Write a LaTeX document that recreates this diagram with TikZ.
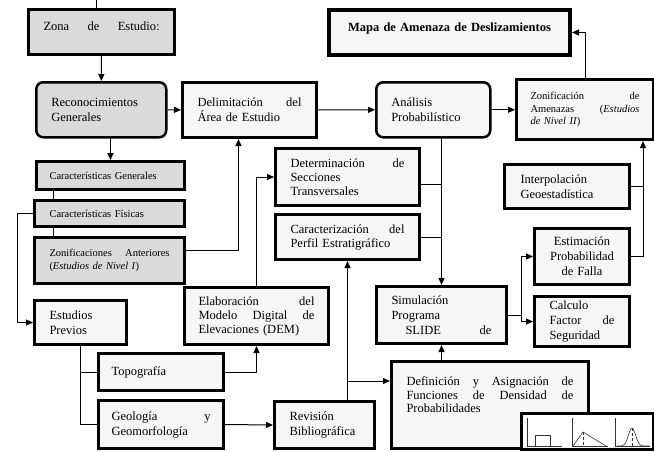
\documentclass[tikz,border=0pt]{standalone}
\usepackage{fontspec}
\setmainfont{Liberation Serif}
\usetikzlibrary{arrows.meta, positioning, calc}
\usepackage{xcolor}
\definecolor{boxgray}{RGB}{218,218,218}
\definecolor{boxwhite}{RGB}{246,246,246}

\begin{document}
\begin{tikzpicture}[
  x=1pt, y=-1pt,
  box/.style={rectangle, draw, line width=3pt, fill=boxwhite, anchor=north west, align=left, inner xsep=15pt, inner ysep=0pt, font=\fontsize{12.5}{15}\selectfont},
  graybox/.style={box, fill=boxgray},
  roundbox/.style={box, rounded corners=7pt, line width=2.5pt},
  small/.style={font=\fontsize{10.5}{12.5}\selectfont},
  tight/.style={font=\fontsize{12.5}{14}\selectfont},
  arrow/.style={-{Triangle[length=7pt, width=6pt]}, line width=1pt},
  link/.style={line width=1pt},
  plotline/.style={line width=0.6pt, black!80},
]
  \useasboundingbox (0,0) rectangle (654,451);

  % upper row
  \node[graybox, text width=116pt, minimum height=45pt, text depth=11pt] (zona) at (27,8) {Zona\hfill de\hfill Estudio:};
  \node[box, line width=4pt, align=center, text width=211pt, minimum height=45pt, text depth=11pt] (mapa) at (327,8) {\bfseries Mapa de Amenaza de Deslizamientos};
  \node[graybox, roundbox, fill=boxgray, text width=100pt, minimum height=55pt] (recon) at (35,81) {Reconocimientos\\Generales};
  \node[box, text width=104pt, minimum height=55pt] (delim) at (181,81) {Delimitaci\'on\hfill del\\\'Area de Estudio};
  \node[roundbox, text width=84pt, minimum height=55pt] (anal) at (375,81) {An\'alisis\\Probabil\'istico};
  \node[box, small, inner xsep=14pt, text width=109pt, minimum height=60pt] (zonam) at (515,78) {Zonificaci\'on\hfill de\\Amenazas\hfill(\textit{Estudios}\\\textit{de Nivel II})};

  % left column
  \node[graybox, small, inner xsep=13pt, text width=122pt, minimum height=28pt] (cgen) at (35,160) {Caracter\'isticas Generales};
  \node[graybox, small, text width=120pt, minimum height=26pt] (cfis) at (33,199) {Caracter\'isticas F\'isicas};
  \node[graybox, small, text width=120pt, minimum height=46pt] (zant) at (33,236) {Zonificaciones\hfill Anteriores\\(\textit{Estudios de Nivel I})};
  \node[box, text width=62pt, minimum height=44pt] (prev) at (33,299) {Estudios\\Previos};
  \node[box, inner xsep=13pt, text width=99pt, minimum height=37pt] (topo) at (97,352) {Topograf\'ia};
  \node[box, inner xsep=13pt, text width=99pt, minimum height=48pt] (geo) at (97,399) {Geolog\'ia\hfill y\\Geomorfolog\'ia};

  % middle
  \node[box, tight, inner xsep=14pt, text width=116pt, minimum height=57pt] (elab) at (183,286) {Elaboraci\'on\hfill del\\Modelo\hfill Digital\hfill de\\Elevaciones (DEM)};
  \node[box, text width=70pt, minimum height=47pt] (rev) at (273,400) {Revisi\'on\\Bibliogr\'afica};
  \node[box, tight, text width=114pt, minimum height=57pt] (det) at (274,147) {Determinaci\'on\hfill de\\Secciones\\Transversales};
  \node[box, tight, text width=114pt, minimum height=45pt] (car) at (274,213) {Caracterizaci\'on\hfill del\\Perfil Estratigr\'afico};
  \node[box, text width=100pt, minimum height=57pt] (sim) at (375,285) {Simulaci\'on\\Programa\\\hspace*{14pt}SLIDE\hfill de};
  \node[box, font=\fontsize{12.5}{13.5}\selectfont, text width=167pt, minimum height=87pt, text depth=47pt] (defi) at (390,360) {Definici\'on\hfill y\hfill Asignaci\'on\hfill de\\Funciones\hfill de\hfill Densidad\hfill de\\Probabilidades};
  \node[box, fill=white, line width=2.5pt, minimum width=132pt, minimum height=36pt, inner xsep=0pt] (inset) at (520,412) {};

  % right column
  \node[box, inner xsep=16pt, text width=93pt, minimum height=44pt] (interp) at (503,163) {Interpolaci\'on\\Geoestad\'istica};
  \node[box, align=center, inner xsep=10pt, text width=75pt, minimum height=56pt] (estim) at (533,227) {Estimaci\'on\\Probabilidad\\de Falla};
  \node[box, text width=65pt, minimum height=50pt] (calc) at (533,295) {Calculo\\Factor\hfill de\\Seguridad};

  % small density plots
  \begin{scope}[shift={(inset.north west)}]
    \draw[plotline] (7,6) -- (7,34) -- (42,34);
    \draw[plotline] (15,34) -- (15,23) -- (30,23) -- (30,34);
    \draw[plotline] (52,6) -- (52,34) -- (88,34);
    \draw[plotline] (53,34) -- (63,20) -- (86,34);
    \draw[plotline, densely dashed] (63,20) -- (63,34);
    \draw[plotline] (95,6) -- (95,34) -- (130,34);
    \draw[plotline, smooth, samples=40, domain=0:33] plot (\x+97, {34-18*exp(-((\x-15)/5)^2)});
    \draw[plotline, densely dashed] (112,16) -- (112,34);
  \end{scope}

  % connectors
  \coordinate (top) at (96,0);
  \draw[link] (top) -- (top |- zona.north);
  \draw[arrow] (zona) -- (recon);
  \draw[arrow] (recon) -- (delim);
  \draw[arrow] (delim) -- (anal);
  \draw[arrow] (anal.east) -- (anal.east -| zonam.west);
  \draw[arrow] (zonam.north) |- (mapa.east);

  \draw[arrow] (recon.south -| cgen.north) -- (cgen.north);
  \draw[link] ([xshift=18pt]cgen.south west) -- ([xshift=20pt]cfis.north west);
  \draw[link] ([xshift=20pt]cfis.south west) -- ([xshift=20pt]zant.north west);
  \draw[arrow] (cfis.west) -- ++(-16,0) |- (prev.west);
  \draw[arrow] ([yshift=10pt]zant.east) -| ([xshift=-11pt]delim.south);

  \draw[arrow] (elab.north) |- (det.west);
  \draw[arrow] (anal.south -| sim.north) -- (sim.north);
  \coordinate (dj) at ([yshift=-7pt]det.east);
  \draw[link] (dj) -- (dj -| sim.north);
  \draw[link] (car.east) -- (car.east -| sim.north);
  \draw[arrow] (car.south |- rev.north) -- (car.south);
  \coordinate (dfin) at ([yshift=24pt]defi.west);
  \draw[arrow] (car.south |- dfin) -- (dfin);
  \draw[arrow] (sim.south |- defi.north) -- (sim.south);

  \draw[link] (sim.east) -- ++(13,0) coordinate (sj);
  \draw[arrow] (sj) |- (estim.west);
  \draw[arrow] (sj) |- (calc.west);
  \coordinate (zs) at ([xshift=58pt]zonam.south);
  \draw[link] (interp.east) -- (interp.east -| zs);
  \draw[arrow] (estim.east) -| (zs);

  \draw[link] (prev.south) |- (geo.west);
  \draw[link] (prev.south |- topo.west) -- (topo.west);
  \draw[arrow] (topo.east) -| (elab.south);
  \draw[arrow] (geo.east) -- (rev.west);
\end{tikzpicture}
\end{document}
